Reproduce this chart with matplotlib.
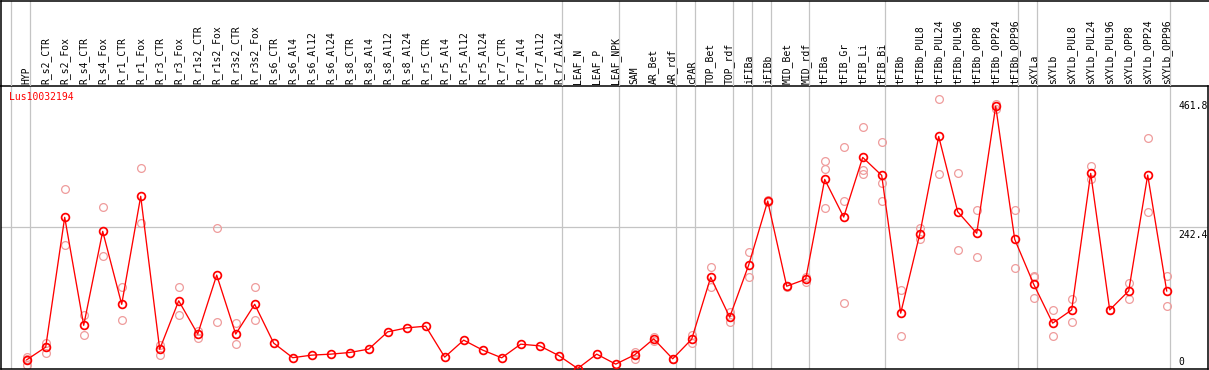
import matplotlib
matplotlib.use("Agg")
import matplotlib.pyplot as plt

gene_name = "Lus10032194"

categories = [
    "HYP", "R_s2_CTR", "R_s2_Fox", "R_s4_CTR", "R_s4_Fox", "R_r1_CTR", "R_r1_Fox",
    "R_r3_CTR", "R_r3_Fox", "R_r1s2_CTR", "R_r1s2_Fox", "R_r3s2_CTR", "R_r3s2_Fox",
    "R_s6_CTR", "R_s6_Al4", "R_s6_Al12", "R_s6_Al24", "R_s8_CTR", "R_s8_Al4",
    "R_s8_Al12", "R_s8_Al24", "R_r5_CTR", "R_r5_Al4", "R_r5_Al12", "R_r5_Al24",
    "R_r7_CTR", "R_r7_Al4", "R_r7_Al12", "R_r7_Al24", "LEAF_N", "LEAF_P", "LEAF_NPK",
    "SAM", "AR_Bet", "AR_rdf", "cPAR", "TOP_Bet", "TOP_rdf", "iFIBa", "iFIBb",
    "MID_Bet", "MID_rdf", "tFIBa", "tFIB_Gr", "tFIB_Li", "tFIB_Bi", "tFIBb",
    "tFIBb_PUL8", "tFIBb_PUL24", "tFIBb_PUL96", "tFIBb_OPP8", "tFIBb_OPP24",
    "tFIBb_OPP96", "sXYLa", "sXYLb", "sXYLb_PUL8", "sXYLb_PUL24", "sXYLb_PUL96",
    "sXYLb_OPP8", "sXYLb_OPP24", "sXYLb_OPP96",
]

mean_values = [
    14.9, 36.6, 259, 74, 235, 110, 295, 33, 116, 59, 160, 59, 110,
    43.5, 18.5, 22.9, 24.6, 27.4, 33.2, 62.8, 69.6, 72.5, 19.5, 48.6, 31.5,
    18.3, 41.7, 38.8, 22.2, 0, 24.6, 7.5,
    23.4, 50.8, 16.6, 50.3, 156.4, 87.9, 177.4, 286.9, 141, 153,
    324, 259.5, 361.7, 330.9, 94.8, 229.9, 397.6, 268.6, 231.7, 449.4, 221.4,
    144.4, 77.7, 100.4, 334.3, 100.4, 132.9, 331.4, 132.9,
]

replicate_values = [
    [20.5, 17, 6.3], [44.5, 37, 27.4], [307, 211], [91.3, 57.1], [276, 192.8],
    [139.8, 82.8], [342.9, 248.8], [40.5, 23.4], [139.2, 91.3], [65, 53],
    [240.7, 79.9], [77.7, 41.7], [139.2, 83.3],
    [], [], [], [], [], [], [], [], [], [], [], [], [], [], [], [], [], [], [],
    [29, 16, 24], [54.7, 47.9], [17, 16], [57.7, 44.5], [173.5, 140.3],
    [96.5, 80.4], [199.1, 156.4], [288, 286], [142, 140], [156.4, 148.8],
    [355.3, 341.1, 274.9], [378.8, 286.9, 111.9], [413, 340, 332.6],
    [387.3, 318.2, 286.4], [134.6, 55.4], [241.2, 221.4], [461.8, 332.6],
    [334.3, 202.6], [271, 190.6], [454, 444.3], [271, 171.8],
    [158.6, 157, 120.4], [100.4, 55.4], [119.2, 79.4], [346.8, 324], [101, 100],
    [146.1, 118.7], [394.2, 267.6], [158.6, 107.3],
]

# group separators drawn after these category indices
group_ends = [-1, 0, 28, 31, 34, 35, 37, 38, 39, 41, 45, 52, 53, 60]

ytick_values = [461.8, 242.4, 0]
ytick_labels = ["461.8", "242.4", "0"]

# ---------------- layout ----------------
W, H = 1209, 370
fig = plt.figure(figsize=(W / 100, H / 100), dpi=100)
mono = "DejaVu Sans Mono"
FS = 7.0
GRAY = "#c4c4c4"
RED = "#ff0000"
PINK = "#ef9c9c"

col0_px, col_step = 26.7, 19.0
plot_left, plot_right = 0.5, 1207.5
plot_top, plot_bottom = 85.5, 368.5

def xl(lpx, rpx):
    return ((lpx - col0_px) / col_step, (rpx - col0_px) / col_step)

ax = fig.add_axes([plot_left / W, (H - plot_bottom) / H,
                   (plot_right - plot_left) / W, (plot_bottom - plot_top) / H])
hax = fig.add_axes([plot_left / W, (H - plot_top) / H,
                    (W - plot_left) / W, (plot_top - 0.5) / H])

xs = list(range(len(categories)))
ymax = max(max(r) for r in replicate_values if r) * 1.05

ax.set_xlim(*xl(plot_left, plot_right))
ax.set_ylim(0, ymax)
hax.set_xlim(*xl(plot_left, W))
hax.set_ylim(0, plot_top - 0.5)

for a in (ax, hax):
    a.set_xticks([])
    a.set_yticks([])
    for s in a.spines.values():
        s.set_linewidth(1.1)
        s.set_color("black")
hax.spines["right"].set_visible(False)
hax.spines["bottom"].set_visible(False)
hax.patch.set_alpha(0)

sep_off = 0.195
for g in group_ends:
    ax.axvline(g + sep_off, color=GRAY, lw=0.9, zorder=1)
    hax.axvline(g + sep_off, color=GRAY, lw=0.9, zorder=1)
ax.axhline(ymax / 2, color=GRAY, lw=0.9, zorder=1)

# replicates
rx, ry = [], []
for i, reps in enumerate(replicate_values):
    for v in reps:
        rx.append(i)
        ry.append(v)
ax.plot(rx, ry, linestyle="none", marker="o", ms=5.6, mfc="none",
        mec=PINK, mew=0.9, zorder=2, clip_on=False)

# means
ax.plot(xs, mean_values, color=RED, lw=0.95, zorder=3, clip_on=False)
ax.plot(xs, mean_values, linestyle="none", marker="o", ms=5.6, mfc="none",
        mec=RED, mew=1.25, zorder=4, clip_on=False)

# header labels
for i, lab in enumerate(categories):
    hax.text(i, 2.0, lab, rotation=90, ha="center", va="bottom",
             family=mono, fontsize=FS, color="black")

# gene name
ax.annotate(gene_name, xy=(8.8 / (plot_right - plot_left), 1.0),
            xycoords="axes fraction", xytext=(0, -8.1), textcoords="offset points",
            ha="left", va="center", family=mono, fontsize=FS, color=RED)

# right side value labels
lab_x = (1178.3 - plot_left) / (plot_right - plot_left)
for v, t in zip(ytick_values, ytick_labels):
    if v == 0:
        ax.annotate(t, xy=(lab_x, v), xycoords=("axes fraction", "data"),
                    xytext=(0, 2.6), textcoords="offset points",
                    ha="left", va="baseline", family=mono, fontsize=FS,
                    color="black", annotation_clip=False)
    else:
        ax.annotate(t, xy=(lab_x, v), xycoords=("axes fraction", "data"),
                    xytext=(0, -1.8), textcoords="offset points",
                    ha="left", va="top", family=mono, fontsize=FS,
                    color="black", annotation_clip=False)

fig.savefig("out.png", dpi=100)
